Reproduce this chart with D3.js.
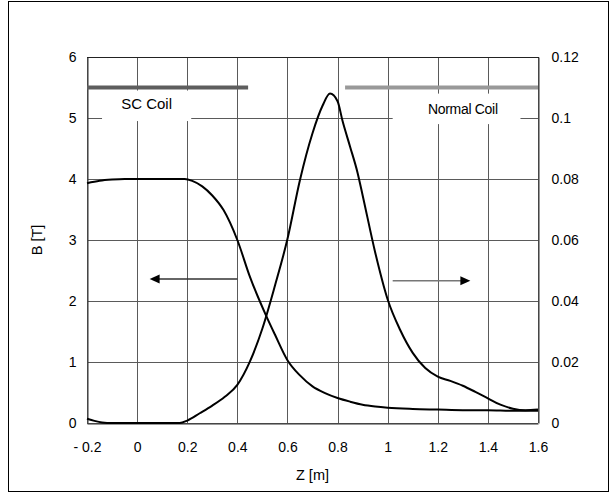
<!DOCTYPE html>
<html>
<head>
<meta charset="utf-8">
<script src="https://cdn.jsdelivr.net/npm/d3@7"></script>
<style>
  body { margin: 0; background: #fff; }
  text { font-family: "Liberation Sans", Arial, sans-serif; fill: #000; }
</style>
</head>
<body>
<div id="chart"></div>
<script>
// Canvas
var w = 610;
var h = 493;

// Axis ticks
var zTicks = [-0.2, 0, 0.2, 0.4, 0.6, 0.8, 1, 1.2, 1.4, 1.6];
var zTickLabels = ["- 0.2", "0", "0.2", "0.4", "0.6", "0.8", "1", "1.2", "1.4", "1.6"];
var bTicks = [0, 1, 2, 3, 4, 5, 6];
var fTicks = [0, 0.02, 0.04, 0.06, 0.08, 0.1, 0.12];
var fTickLabels = ["0", "0.02", "0.04", "0.06", "0.08", "0.1", "0.12"];

// Magnetic field B [T] along Z (left axis)
var zB = [-0.2, -0.15, -0.1, -0.05, 0, 0.1, 0.19, 0.22, 0.26, 0.3, 0.345, 0.4, 0.45, 0.517, 0.55,
          0.6, 0.65, 0.7, 0.75, 0.8, 0.85, 0.9, 0.95, 1.0, 1.1, 1.2, 1.3, 1.4, 1.5, 1.6];
var bField = [3.93, 3.97, 3.99, 4.0, 4.0, 4.0, 4.0, 3.97, 3.88, 3.73, 3.49, 3.0, 2.4, 1.74, 1.45,
              1.03, 0.78, 0.6, 0.49, 0.41, 0.35, 0.3, 0.27, 0.25, 0.23, 0.22, 0.21, 0.21, 0.2, 0.2];

// Adiabatic parameter along Z (right axis)
var zF = [-0.2, -0.17, -0.14, -0.1, 0, 0.1, 0.17, 0.2, 0.25, 0.3, 0.35, 0.4, 0.45, 0.5, 0.55,
          0.6, 0.65, 0.7, 0.74, 0.77, 0.8, 0.82, 0.85, 0.88, 0.9, 0.95, 1.0, 1.05, 1.1, 1.15,
          1.2, 1.25, 1.3, 1.35, 1.4, 1.45, 1.5, 1.55, 1.6];
var fParam = [0.0014, 0.0007, 0.0002, 0, 0, 0, 0, 0.0008, 0.0032, 0.0057, 0.0086, 0.0125, 0.0201, 0.031, 0.045,
              0.0603, 0.0797, 0.095, 0.104, 0.108, 0.1055, 0.099, 0.0906, 0.082, 0.0747, 0.056, 0.0405, 0.0305, 0.023, 0.018,
              0.0152, 0.0138, 0.0122, 0.0102, 0.0081, 0.006, 0.0047, 0.0042, 0.0044];

// Coil extents along Z
var coilNames = ["SC Coil", "Normal Coil"];
var coilStart = [-0.2, 0.83];
var coilEnd = [0.443, 1.6];

// Scales
var x = d3.scaleLinear().domain([-0.2, 1.6]).range([87, 538]);
var yB = d3.scaleLinear().domain([0, 6]).range([423, 57]);
var yF = d3.scaleLinear().domain([0, 0.12]).range([423, 57]);

var svg = d3.select("#chart").append("svg")
    .attr("width", w)
    .attr("height", h);

// Outer frame
svg.append("rect")
   .attr("x", 8.5).attr("y", 1.5)
   .attr("width", 600).attr("height", 490)
   .attr("fill", "none").attr("stroke", "#000").attr("stroke-width", 1);

// Gridlines
svg.append("g").selectAll("line").data(zTicks).join("line")
   .attr("x1", d => Math.round(x(d)) + 0.5).attr("x2", d => Math.round(x(d)) + 0.5)
   .attr("y1", yB(0)).attr("y2", yB(6))
   .attr("stroke", "#5a5a5a");
svg.append("g").selectAll("line").data(bTicks).join("line")
   .attr("y1", d => Math.round(yB(d)) + 0.5).attr("y2", d => Math.round(yB(d)) + 0.5)
   .attr("x1", x(-0.2)).attr("x2", x(1.6))
   .attr("stroke", "#5a5a5a");

// Left axis
var leftAxis = svg.append("g")
   .attr("transform", `translate(${Math.round(x(-0.2)) + 0.5},0)`)
   .call(d3.axisLeft(yB).tickValues(bTicks).tickSize(0).tickPadding(11).tickFormat(d3.format("d")));
// Right axis
var rightAxis = svg.append("g")
   .attr("transform", `translate(${Math.round(x(1.6)) + 0.5},0)`)
   .call(d3.axisRight(yF).tickValues(fTicks).tickSize(0).tickPadding(13)
         .tickFormat((d, i) => fTickLabels[i]));
// Bottom axis
var bottomAxis = svg.append("g")
   .attr("transform", `translate(0,${Math.round(yB(0)) + 0.5})`)
   .call(d3.axisBottom(x).tickValues(zTicks).tickSize(0).tickPadding(19)
         .tickFormat((d, i) => zTickLabels[i]));

[leftAxis, rightAxis, bottomAxis].forEach(function(g) {
    g.select(".domain").attr("stroke", "#333");
    g.selectAll("text").style("font-family", "Liberation Sans, Arial, sans-serif")
     .style("font-size", "14px").attr("fill", "#000");
});

// Top frame line
svg.append("line")
   .attr("x1", x(-0.2)).attr("x2", x(1.6) + 1)
   .attr("y1", Math.round(yB(6)) + 0.5).attr("y2", Math.round(yB(6)) + 0.5)
   .attr("stroke", "#222");

// White boxes behind the coil labels
var boxZ0 = [-0.14, 1.02], boxZ1 = [0.216, 1.53], boxB0 = [5.45, 5.4], boxB1 = [4.95, 4.9];
var labelB = [5.23, 5.14], labelSize = ["15px", "14px"], labelSpacing = ["0px", "-0.3px"];
svg.append("g").selectAll("rect").data(coilNames).join("rect")
   .attr("x", (d, i) => x(boxZ0[i]))
   .attr("y", (d, i) => yB(boxB0[i]))
   .attr("width", (d, i) => x(boxZ1[i]) - x(boxZ0[i]))
   .attr("height", (d, i) => yB(boxB1[i]) - yB(boxB0[i]))
   .attr("fill", "#fff");
svg.append("g").selectAll("text").data(coilNames).join("text")
   .attr("x", (d, i) => i === 0 ? (x(boxZ0[i]) + x(boxZ1[i])) / 2 : x(1.3))
   .attr("y", (d, i) => yB(labelB[i]) + 5)
   .attr("text-anchor", "middle")
   .style("font-size", (d, i) => labelSize[i])
   .style("letter-spacing", (d, i) => labelSpacing[i])
   .text(d => d);

// Coil bars
var barColors = ["#5e5e5e", "#999999"];
svg.append("g").selectAll("line").data(coilNames).join("line")
   .attr("x1", (d, i) => x(coilStart[i])).attr("x2", (d, i) => x(coilEnd[i]))
   .attr("y1", yB(5.5)).attr("y2", yB(5.5))
   .attr("stroke", (d, i) => barColors[i]).attr("stroke-width", 4);

// Curves
var bLine = d3.line().x(d => x(d[0])).y(d => yB(d[1])).curve(d3.curveMonotoneX);
var fLine = d3.line().x(d => x(d[0])).y(d => yF(d[1])).curve(d3.curveMonotoneX);

svg.append("path")
   .datum(d3.zip(zB, bField))
   .attr("d", bLine)
   .attr("fill", "none").attr("stroke", "#000").attr("stroke-width", 2);
svg.append("path")
   .datum(d3.zip(zF, fParam))
   .attr("d", fLine)
   .attr("fill", "none").attr("stroke", "#000").attr("stroke-width", 2);

// Arrows pointing to each curve's axis
var arrowFrom = [0.4, 1.02], arrowTo = [0.05, 1.33], arrowAt = [2.36, 2.33];
var arrowColors = ["#333", "#777"];
arrowFrom.forEach(function(z0, i) {
    var z1 = arrowTo[i], yy = yB(arrowAt[i]);
    var dir = z1 > z0 ? 1 : -1;
    var tip = x(z1);
    svg.append("line")
       .attr("x1", x(z0)).attr("x2", tip - dir * 8)
       .attr("y1", yy).attr("y2", yy)
       .attr("stroke", arrowColors[i]).attr("stroke-width", 1.5);
    svg.append("path")
       .attr("d", `M${tip},${yy} L${tip - dir * 10},${yy - 4.5} L${tip - dir * 10},${yy + 4.5} Z`)
       .attr("fill", "#000");
});

// Axis titles
svg.append("text")
   .attr("transform", `translate(42,${(yB(0) + yB(6)) / 2}) rotate(-90)`)
   .attr("text-anchor", "middle")
   .style("font-size", "14.5px")
   .text("B [T]");
svg.append("text")
   .attr("x", (x(-0.2) + x(1.6)) / 2)
   .attr("y", 480)
   .attr("text-anchor", "middle")
   .style("font-size", "14.5px")
   .text("Z [m]");

// Right title (clipped at the top as in the original)
svg.append("clipPath").attr("id", "rclip")
   .append("rect").attr("x", 580).attr("y", 156).attr("width", 30).attr("height", 200);
var rt = svg.append("text")
   .attr("clip-path", "url(#rclip)")
   .attr("transform", "translate(607,317) rotate(-90)")
   .style("font-size", "16.5px");
rt.append("tspan").text("adiabatic parameter ");
rt.append("tspan").style("font-style", "italic").text("f");
rt.append("tspan").text("(");
</script>
</body>
</html>
